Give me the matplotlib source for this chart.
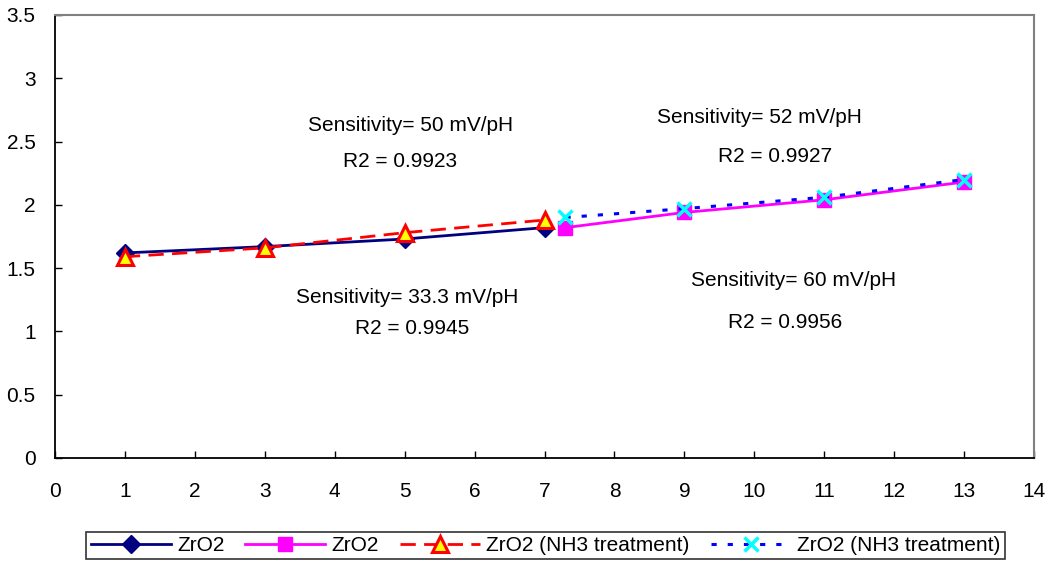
import matplotlib
matplotlib.use("Agg")
import matplotlib.pyplot as plt

plt.rcParams['font.family'] = ['Liberation Sans', 'DejaVu Sans']

# pH values and potential readings (V)
ph_low = [1, 3, 5, 7]
ph_high = [7.3, 9, 11, 13]
zro2_low = [1.62, 1.67, 1.73, 1.82]
zro2_high = [1.82, 1.94, 2.04, 2.18]
nh3_low = [1.59, 1.66, 1.78, 1.88]
nh3_high = [1.90, 1.97, 2.06, 2.20]
series_labels = ["ZrO2", "ZrO2", "ZrO2 (NH3 treatment)", "ZrO2 (NH3 treatment)"]

x_ticks = list(range(0, 15))
y_ticks = [0, 0.5, 1, 1.5, 2, 2.5, 3, 3.5]
y_ticklabels = ["0", "0.5", "1", "1.5", "2", "2.5", "3", "3.5"]

fig = plt.figure(figsize=(10.53, 5.65), dpi=100)
ax = fig.add_axes([0.0522, 0.1894, 0.9298, 0.7841])

ax.plot(ph_low, zro2_low, color="#000080", lw=2, marker="D", ms=9.5,
        mfc="#000080", mec="#000080", label=series_labels[0], zorder=3)
ax.plot(ph_high, zro2_high, color="#FF00FF", lw=2, marker="s", ms=10.5,
        mfc="#FF00FF", mec="#FF00FF", label=series_labels[1], zorder=3)
ax.plot(ph_low, nh3_low, color="#FF0000", lw=2, ls=(0, (5.5, 3)), marker="^", ms=11,
        mfc="#FFFF00", mec="#FF0000", mew=2.2, label=series_labels[2], zorder=4)
ax.plot(ph_high, nh3_high, color="#0000FF", lw=2.2, ls=(0, (1.7, 3.6)), marker="x", ms=10.5,
        mec="#00FFFF", mew=2.5, label=series_labels[3], zorder=4)

ax.set_xlim(0, 14)
ax.set_ylim(0, 3.5)
ax.set_xticks(x_ticks)
ax.set_yticks(y_ticks)
ax.set_xticklabels([str(v) for v in x_ticks])
ax.set_yticklabels(y_ticklabels)
ax.tick_params(direction="in", length=5, width=1, labelsize=15, colors="black")
ax.tick_params(axis="y", pad=14)
ax.tick_params(axis="x", pad=17)

for side in ("left", "bottom"):
    ax.spines[side].set_color("black")
    ax.spines[side].set_linewidth(1.3)
for side in ("top", "right"):
    ax.spines[side].set_color("#808080")
    ax.spines[side].set_linewidth(1.5)

txt = dict(fontsize=15, ha="center", va="center", color="black")
ax.text(5.09, 2.63, "Sensitivity= 50 mV/pH", **txt)
ax.text(4.94, 2.34, "R2 = 0.9923", **txt)
ax.text(10.07, 2.69, "Sensitivity= 52 mV/pH", **txt)
ax.text(10.30, 2.38, "R2 = 0.9927", **txt)
ax.text(5.04, 1.27, "Sensitivity= 33.3 mV/pH", **txt)
ax.text(5.10, 1.02, "R2 = 0.9945", **txt)
ax.text(10.56, 1.40, "Sensitivity= 60 mV/pH", **txt)
ax.text(10.44, 1.07, "R2 = 0.9956", **txt)

leg = fig.legend(loc="center", bbox_to_anchor=(0.518, 0.0345), ncol=4, frameon=True,
                 fancybox=False, edgecolor="black", fontsize=15, handlelength=3.85,
                 handletextpad=0.3, columnspacing=1.0, borderpad=0.2, borderaxespad=0)
leg.get_frame().set_linewidth(1.2)

fig.savefig("out.png", dpi=100)
